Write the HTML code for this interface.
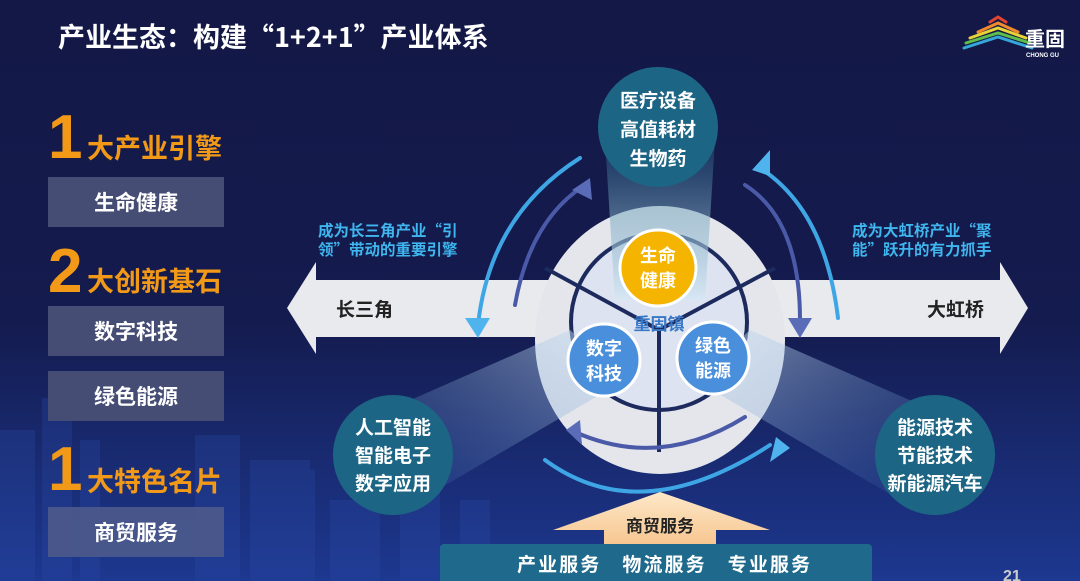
<!DOCTYPE html>
<html><head><meta charset="utf-8"><style>
body{margin:0;width:1080px;height:581px;overflow:hidden;background:#141a47;}
svg{display:block}
text{font-family:"Liberation Sans","Noto Sans CJK SC",sans-serif;font-weight:bold}
.cjk{font-family:"Noto Sans CJK SC",sans-serif}
</style></head><body>
<svg width="1080" height="581" viewBox="0 0 1080 581" xmlns="http://www.w3.org/2000/svg">
<defs>
<linearGradient id="bg" x1="0" y1="0" x2="0" y2="1">
<stop offset="0" stop-color="#131846"/><stop offset="0.55" stop-color="#141b4e"/><stop offset="1" stop-color="#1d3890"/></linearGradient>
<linearGradient id="beamL" x1="1" y1="0" x2="0" y2="1"><stop offset="0" stop-color="#cfe3f5" stop-opacity="0.7"/><stop offset="1" stop-color="#3a6cb0" stop-opacity="0.1"/></linearGradient>
<linearGradient id="beamR" x1="0" y1="0" x2="1" y2="1"><stop offset="0" stop-color="#cfe3f5" stop-opacity="0.7"/><stop offset="1" stop-color="#3a6cb0" stop-opacity="0.1"/></linearGradient>
<linearGradient id="beamT" x1="0" y1="1" x2="0" y2="0"><stop offset="0" stop-color="#d6e8f5" stop-opacity="0.8"/><stop offset="1" stop-color="#2a7090" stop-opacity="0.3"/></linearGradient>
<linearGradient id="up" x1="0" y1="0" x2="0" y2="1"><stop offset="0" stop-color="#fde8c8"/><stop offset="1" stop-color="#f7c690"/></linearGradient>
</defs>
<rect width="1080" height="581" fill="url(#bg)"/>
<g fill="#2a4aa6" opacity="0.3">
<rect x="0" y="430" width="35" height="151"/><rect x="42" y="398" width="30" height="183"/><rect x="80" y="440" width="20" height="141"/><rect x="195" y="435" width="45" height="146"/><rect x="250" y="460" width="60" height="121"/><rect x="280" y="470" width="35" height="111"/><rect x="330" y="500" width="50" height="81"/><rect x="400" y="490" width="40" height="91"/><rect x="460" y="500" width="30" height="81"/>
</g>
<text x="58" y="47" font-size="27" fill="#fff" class="cjk">产业生态：构建“1+2+1”产业体系</text>
<g fill="none" stroke-width="3" stroke-linecap="round">
<path d="M990 22 l8 -5 l8 5" stroke="#e2452f"/>
<path d="M978 32 l20 -9 l20 9" stroke="#f08a2c"/>
<path d="M970 38 l28 -10 l28 10" stroke="#e8d236"/>
<path d="M966 43 l32 -10 l32 10" stroke="#5dbf4a"/>
<path d="M964 48 l34 -11 l34 11" stroke="#36a6d9"/>
</g>
<text x="1025" y="46" font-size="20" fill="#fff">重固</text>
<text x="1026" y="57" font-size="6" fill="#fff">CHONG GU</text>
<text x="48" y="158" font-size="62" fill="#f29a18">1</text>
<text x="87" y="158" font-size="27" fill="#f29a18">大产业引擎</text>
<rect x="48" y="177" width="176" height="50" fill="#454d75"/>
<text x="136" y="210" font-size="21" fill="#fff" text-anchor="middle">生命健康</text>
<text x="48" y="292" font-size="62" fill="#f29a18">2</text>
<text x="87" y="291" font-size="27" fill="#f29a18">大创新基石</text>
<rect x="48" y="306" width="176" height="50" fill="#454d75"/>
<text x="136" y="339" font-size="21" fill="#fff" text-anchor="middle">数字科技</text>
<rect x="48" y="371" width="176" height="50" fill="#454d75"/>
<text x="136" y="404" font-size="21" fill="#fff" text-anchor="middle">绿色能源</text>
<text x="48" y="490" font-size="62" fill="#f29a18">1</text>
<text x="87" y="491" font-size="27" fill="#f29a18">大特色名片</text>
<rect x="48" y="507" width="176" height="50" fill="#4c5a8c" opacity="0.9"/>
<text x="136" y="540" font-size="21" fill="#fff" text-anchor="middle">商贸服务</text>
<polygon points="287,308 316,262 316,280 1000,280 1000,262 1028,308 1000,354 1000,337 316,337 316,354" fill="#e9eaee"/>
<text x="336" y="316" font-size="19" fill="#222">长三角</text>
<text x="984" y="316" font-size="19" fill="#222" text-anchor="end">大虹桥</text>
<text x="318" y="236" font-size="15.5" fill="#3fb6ee" class="cjk">成为长三角产业“引</text>
<text x="318" y="255" font-size="15.5" fill="#3fb6ee" class="cjk">领”带动的重要引擎</text>
<text x="852" y="236" font-size="15.5" fill="#3fb6ee" class="cjk">成为大虹桥产业“聚</text>
<text x="852" y="255" font-size="15.5" fill="#3fb6ee" class="cjk">能”跃升的有力抓手</text>
<ellipse cx="660" cy="340" rx="125" ry="134" fill="#e4e6ec"/>
<circle cx="659" cy="322" r="88" fill="#dde3f0" stroke="#1d2a5e" stroke-width="4"/>
<g stroke="#1d2a5e" stroke-width="4" fill="none">
<line x1="659" y1="330" x2="545" y2="268"/>
<line x1="659" y1="330" x2="775" y2="268"/>
<line x1="659" y1="330" x2="659" y2="452"/>
</g>
<polygon points="605,140 715,140 705,300 615,300" fill="url(#beamT)"/>
<polygon points="570,330 625,380 420,500 365,420" fill="url(#beamL)" opacity="0.8"/>
<polygon points="750,330 695,380 900,500 955,420" fill="url(#beamR)" opacity="0.8"/>
<circle cx="658" cy="268" r="38" fill="#f4b400" stroke="#fff" stroke-width="3"/>
<text x="658" y="262" font-size="18" fill="#fff" text-anchor="middle">生命</text>
<text x="658" y="287" font-size="18" fill="#fff" text-anchor="middle">健康</text>
<text x="659" y="330" font-size="17" fill="#3a78c8" text-anchor="middle">重固镇</text>
<circle cx="604" cy="360" r="36" fill="#4a8fdc" stroke="#fff" stroke-width="3"/>
<text x="604" y="355" font-size="18" fill="#fff" text-anchor="middle">数字</text>
<text x="604" y="380" font-size="18" fill="#fff" text-anchor="middle">科技</text>
<circle cx="713" cy="358" r="36" fill="#4a8fdc" stroke="#fff" stroke-width="3"/>
<text x="713" y="352" font-size="18" fill="#fff" text-anchor="middle">绿色</text>
<text x="713" y="377" font-size="18" fill="#fff" text-anchor="middle">能源</text>
<circle cx="658" cy="127" r="60" fill="#1d6585"/>
<text x="658" y="107" font-size="19" fill="#fff" text-anchor="middle">医疗设备</text>
<text x="658" y="136" font-size="19" fill="#fff" text-anchor="middle">高值耗材</text>
<text x="658" y="165" font-size="19" fill="#fff" text-anchor="middle">生物药</text>
<circle cx="393" cy="455" r="60" fill="#1d6585"/>
<text x="393" y="434" font-size="19" fill="#fff" text-anchor="middle">人工智能</text>
<text x="393" y="462" font-size="19" fill="#fff" text-anchor="middle">智能电子</text>
<text x="393" y="490" font-size="19" fill="#fff" text-anchor="middle">数字应用</text>
<circle cx="935" cy="455" r="60" fill="#1d6585"/>
<text x="935" y="434" font-size="19" fill="#fff" text-anchor="middle">能源技术</text>
<text x="935" y="462" font-size="19" fill="#fff" text-anchor="middle">节能技术</text>
<text x="935" y="490" font-size="19" fill="#fff" text-anchor="middle">新能源汽车</text>
<g fill="none" stroke-width="4" stroke-linecap="round">
<path d="M580 158 Q490 215 478 325" stroke="#3fa6e6"/>
<path d="M515 305 Q530 220 585 185" stroke="#4a5aa8"/>
<path d="M745 185 Q800 220 800 320" stroke="#4a5aa8"/>
<path d="M838 318 Q825 210 760 168" stroke="#3fa6e6"/>
<path d="M545 460 Q640 530 770 445" stroke="#3fa6e6"/>
<path d="M745 417 Q660 470 575 432" stroke="#4a5aa8"/>
</g>
<g fill="#4fb4ee">
<polygon points="465,318 490,318 478,338"/><polygon points="752,170 770,150 770,176"/><polygon points="776,437 790,448 770,462"/>
</g>
<g fill="#5a6cb8">
<polygon points="572,190 590,178 592,200"/><polygon points="788,318 812,318 800,338"/><polygon points="566,430 580,420 582,445"/>
</g>
<polygon points="660,492 770,530 716,530 716,545 604,545 604,530 553,530" fill="url(#up)"/>
<text x="660" y="532" font-size="17" fill="#222" text-anchor="middle">商贸服务</text>
<rect x="440" y="544" width="432" height="40" rx="4" fill="#1f6a8c"/>
<text x="517" y="571" font-size="19" fill="#fff" textLength="293" lengthAdjust="spacing">产业服务　物流服务　专业服务</text>
<text x="1003" y="581" font-size="16" fill="#ccc" font-weight="normal">21</text>
</svg>
</body></html>
